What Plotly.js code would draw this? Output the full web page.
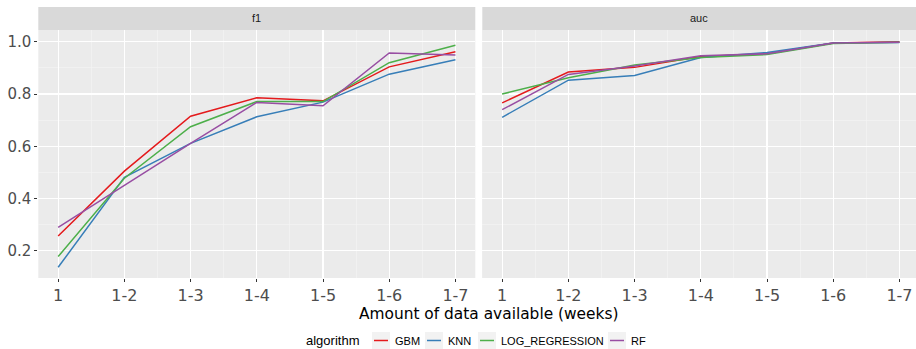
<!DOCTYPE html>
<html>
<head>
<meta charset="utf-8">
<script src="https://cdn.plot.ly/plotly-3.0.1.min.js"></script>
<style>html,body{margin:0;padding:0;background:#fff;}#chart{width:916px;height:349px;}</style>
</head>
<body>
<div id="chart"></div>
<script>
// ---- data ----
const weeks = [1, 2, 3, 4, 5, 6, 7];
const weekLabels = ["1", "1-2", "1-3", "1-4", "1-5", "1-6", "1-7"];
const algorithms = ["GBM", "KNN", "LOG_REGRESSION", "RF"];
const colors = ["#E41A1C", "#377EB8", "#4DAF4A", "#984EA3"];
const panels = ["f1", "auc"];

const f1_GBM = [0.257, 0.505, 0.715, 0.786, 0.774, 0.904, 0.962];
const f1_KNN = [0.137, 0.481, 0.611, 0.713, 0.769, 0.876, 0.931];
const f1_LOG = [0.178, 0.478, 0.675, 0.771, 0.771, 0.920, 0.987];
const f1_RF  = [0.290, 0.452, 0.611, 0.768, 0.755, 0.957, 0.949];

const auc_GBM = [0.766, 0.884, 0.902, 0.944, 0.954, 0.995, 1.000];
const auc_KNN = [0.711, 0.853, 0.871, 0.940, 0.959, 0.995, 0.997];
const auc_LOG = [0.800, 0.862, 0.911, 0.940, 0.951, 0.993, 0.998];
const auc_RF  = [0.740, 0.875, 0.907, 0.946, 0.954, 0.995, 0.998];

const f1Series = [f1_GBM, f1_KNN, f1_LOG, f1_RF];
const aucSeries = [auc_GBM, auc_KNN, auc_LOG, auc_RF];

// ---- layout helpers (pixel -> paper) ----
const W = 916, H = 349;
const M = {l: 38, r: 0, t: 30, b: 71};
const PW = W - M.l - M.r, PH = H - M.t - M.b;
const px = x => (x - M.l) / PW;
const py = y => (H - M.b - y) / PH;

const traces = [];
algorithms.forEach((a, i) => {
  traces.push({x: weeks, y: f1Series[i], type: 'scatter', mode: 'lines', name: a,
    line: {color: colors[i], width: 1.5}, xaxis: 'x', yaxis: 'y', showlegend: false});
  traces.push({x: weeks, y: aucSeries[i], type: 'scatter', mode: 'lines', name: a,
    line: {color: colors[i], width: 1.5}, xaxis: 'x2', yaxis: 'y2', showlegend: false});
});

const font = "Liberation Sans, Arial, sans-serif";
const tickFontFamily = "DejaVu Sans, Verdana, sans-serif";
const xBase = {
  tickmode: 'array', tickvals: weeks, ticktext: weekLabels,
  showgrid: true, gridcolor: '#FFFFFF', gridwidth: 1.1,
  minor: {dtick: 0.5, tick0: 0.5, showgrid: true, gridcolor: '#F5F5F5', gridwidth: 0.6, ticks: ''},
  zeroline: false, showline: false,
  ticks: 'outside', ticklen: 3, tickcolor: '#333333', tickwidth: 1,
  tickfont: {family: tickFontFamily, size: 16, color: '#4D4D4D'}
};
const yBase = {
  range: [0.096, 1.045], tickmode: 'array', tickvals: [0.2, 0.4, 0.6, 0.8, 1.0],
  ticktext: ["0.2", "0.4", "0.6", "0.8", "1.0"],
  showgrid: true, gridcolor: '#FFFFFF', gridwidth: 1.1,
  minor: {tickmode: 'array', tickvals: [0.3, 0.5, 0.7, 0.9], showgrid: true, gridcolor: '#F5F5F5', gridwidth: 0.6, ticks: ''},
  zeroline: false, showline: false,
  tickfont: {family: tickFontFamily, size: 15, color: '#4D4D4D'}
};

const p1 = [px(38.3), px(475.3)];
const p2 = [px(482.3), 1];

const layout = {
  width: W, height: H, margin: M,
  paper_bgcolor: '#FFFFFF', plot_bgcolor: '#EBEBEB',
  font: {family: font},
  showlegend: false,
  xaxis: Object.assign({}, xBase, {domain: p1, range: [0.7, 7.3], anchor: 'y'}),
  xaxis2: Object.assign({}, xBase, {domain: p2, range: [0.7, 7.25], anchor: 'y2'}),
  yaxis: Object.assign({}, yBase, {anchor: 'x', ticks: 'outside', ticklen: 3, tickcolor: '#333333'}),
  yaxis2: Object.assign({}, yBase, {anchor: 'x2', showticklabels: false, ticks: ''}),
  shapes: [],
  annotations: []
};

// panel background for second panel & strips
const doms = [p1, p2];
layout.shapes.push({type: 'rect', xref: 'paper', yref: 'paper', x0: p2[0], x1: p2[1], y0: 0, y1: 1,
  fillcolor: '#EBEBEB', line: {width: 0}, layer: 'below'});
panels.forEach((p, i) => {
  layout.shapes.push({type: 'rect', xref: 'paper', yref: 'paper', x0: doms[i][0], x1: doms[i][1],
    y0: 1, y1: py(7), fillcolor: '#D9D9D9', line: {width: 0}});
  layout.annotations.push({text: p, xref: 'paper', yref: 'paper', x: (doms[i][0] + doms[i][1]) / 2,
    y: py(18.5), xanchor: 'center', yanchor: 'middle', showarrow: false,
    font: {family: font, size: 11, color: '#1A1A1A'}});
});

// x axis title
layout.annotations.push({text: 'Amount of data available (weeks)', xref: 'paper', yref: 'paper',
  x: px(488), y: py(314), xanchor: 'center', yanchor: 'middle', showarrow: false,
  font: {family: tickFontFamily, size: 15.4, color: '#000000'}});

// legend (custom, ggplot style)
const legY = 340.5;
layout.annotations.push({text: 'algorithm', xref: 'paper', yref: 'paper', x: px(304), y: py(legY),
  xanchor: 'left', yanchor: 'middle', showarrow: false, font: {family: font, size: 13, color: '#000000'}});
const keyX = [372, 425, 478, 608];
algorithms.forEach((a, i) => {
  const k = keyX[i];
  layout.shapes.push({type: 'rect', xref: 'paper', yref: 'paper', x0: px(k), x1: px(k + 18),
    y0: py(legY + 8.5), y1: py(legY - 8.5), fillcolor: '#F2F2F2', line: {width: 0}});
  layout.shapes.push({type: 'line', xref: 'paper', yref: 'paper', x0: px(k + 2), x1: px(k + 16),
    y0: py(legY), y1: py(legY), line: {color: colors[i], width: 1.5}});
  layout.annotations.push({text: a, xref: 'paper', yref: 'paper', x: px(k + 21), y: py(legY),
    xanchor: 'left', yanchor: 'middle', showarrow: false, font: {family: font, size: 11, color: '#000000'}});
});

Plotly.newPlot('chart', traces, layout, {displayModeBar: false, staticPlot: true});
</script>
</body>
</html>
